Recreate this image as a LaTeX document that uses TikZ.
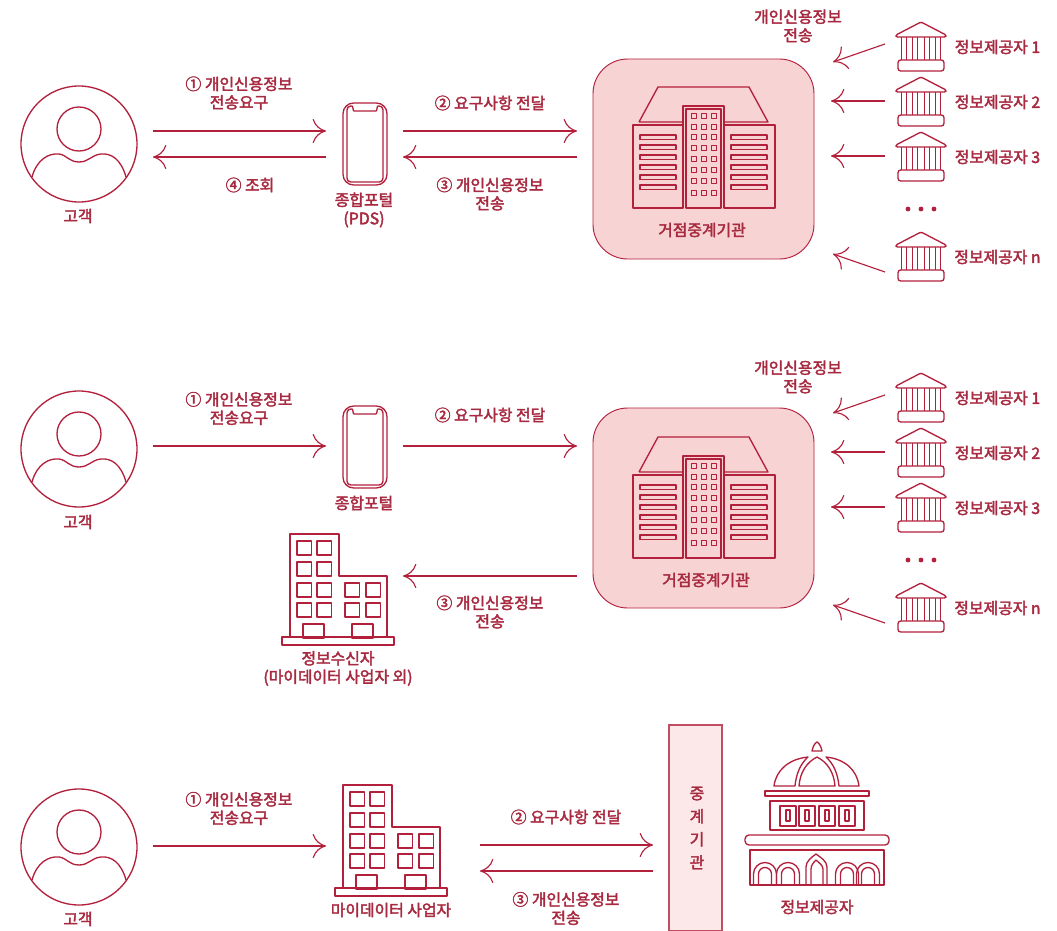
\documentclass[tikz,border=0pt]{standalone}
\usepackage{fontspec}
\setmainfont[FakeBold=2.4]{Noto Sans CJK KR}
\usepackage{tikz}
\usetikzlibrary{arrows.meta,positioning,calc}
\definecolor{linered}{HTML}{B2203C}
\definecolor{textred}{HTML}{A82A40}
\definecolor{hubfill}{HTML}{F8D3D3}
\definecolor{relayfill}{HTML}{FCE8E8}
\tikzset{
  customer/.pic={
    \draw[icon] (0,0) circle (58);
    \draw[icon] (0,-15) circle (22);
    \draw[icon] (-47,33) .. controls (-42,15) and (-30,9) .. (-20,10) .. controls (-12,11) and (-10,18) .. (0,18) .. controls (10,18) and (12,11) .. (22,10) .. controls (32,9) and (42,15) .. (47,33);
  },
  phone/.pic={
    \draw[icon, rounded corners=8] (-22,-41) rectangle (22,41);
    \draw[icon] (-11,-33) .. controls (-12,-33) and (-12,-38) .. (-13,-38) -- (-14,-38) .. controls (-16.5,-38) and (-18,-36.5) .. (-18,-34) -- (-18,34) .. controls (-18,36.5) and (-16.5,38) .. (-14,38) -- (14,38) .. controls (16.5,38) and (18,36.5) .. (18,34) -- (18,-34) .. controls (18,-36.5) and (16.5,-38) .. (14,-38) -- (13,-38) .. controls (12,-38) and (12,-33) .. (11,-33) -- cycle;
  },
  bank/.pic={
    \draw[icon, rounded corners=1] (0,0) -- (25,13) -- (25,15) -- (-25,15) -- (-25,13) -- cycle;
    \foreach \cx in {-17,-6,6,17} {
      \draw[icon] (\cx-2.2,15) -- (\cx-2.2,38) (\cx+2.2,15) -- (\cx+2.2,38);
    }
    \draw[icon, rounded corners=2] (-23,38) rectangle (23,49);
  },
  hub/.pic={
    \draw[icon] (-65,-25) -- (-46,-60) -- (45,-60) -- (64,-25) -- (20,-25) (-21,-25) -- (-65,-25);
    \draw[icon] (-71,-22) rectangle (-21,61);
    \draw[icon] (20,-22) rectangle (71,61);
    \draw[icon] (-21,61) -- (-21,-41) -- (20,-41) -- (20,61);
    \draw[icon] (-18,61) -- (-18,-38) -- (17,-38) -- (17,61) -- cycle;
    \foreach \wy in {-12,-2,8,18,28,38} {
      \draw[icon] (-64,\wy) rectangle (-28,\wy+4.5);
      \draw[icon] (27,\wy) rectangle (63,\wy+4.5);
    }
    \foreach \wy in {-31,-20,-10,1,12,23,34,46}
      \foreach \wx in {-10,0,10} {
        \draw[icon] (\wx-2.7,\wy-2.7) rectangle (\wx+2.7,\wy+2.7);
      }
  },
  office/.pic={
    \draw[icon] (-8,103) -- (-8,111) -- (104,111) -- (104,103) -- (97,103) -- (97,42) -- (49,42) -- (49,0) -- (0,0) -- (0,103) -- cycle;
    \draw[icon] (0,103) -- (97,103);
    \foreach \wx in {7,27} \foreach \wy in {7,28,49,69} {
      \draw[icon] (\wx,\wy) rectangle (\wx+14.5,\wy+14);
    }
    \foreach \wx in {55,76} \foreach \wy in {49,69} {
      \draw[icon] (\wx,\wy) rectangle (\wx+14.5,\wy+14);
    }
    \draw[icon] (13,90) rectangle (34,104);
    \draw[icon] (62,90) rectangle (83,104);
  },
  capitol/.pic={
    \draw[icon] (-5,9) .. controls (-4,4) and (-2,1) .. (0,0) .. controls (2,1) and (4,4) .. (5,9) -- cycle;
    \draw[icon] (-43,44) .. controls (-41,28) and (-28,17) .. (-9,15) .. controls (-17,22) and (-21,33) .. (-22,44) -- cycle;
    \draw[icon] (42,44) .. controls (40,28) and (28,17) .. (9,15) .. controls (17,22) and (21,33) .. (22,44) -- cycle;
    \draw[icon] (-18,44) .. controls (-17,30) and (-10,20) .. (0,15) .. controls (10,20) and (17,30) .. (18,44) -- cycle;
    \draw[icon] (-52,49) rectangle (52,54);
    \draw[icon] (-47,59) rectangle (47,88);
    \foreach \wx/\ix in {-37/-29,-18/-10,2/10,22/30} {
      \draw[icon] (\wx,64) rectangle (\wx+16,84);
      \draw[icon] (\ix-2,68) rectangle (\ix+2,79);
    }
    \draw[icon, rounded corners=3] (-72,93) rectangle (72,103);
    \draw[icon] (-67,143) -- (-67,108) -- (67,108) -- (67,143) -- cycle;
    \foreach \ax in {-52,-29,30,51} {
      \draw[icon] (\ax-11.5,143) -- (\ax-11.5,132) arc (180:360:11.5) -- (\ax+11.5,143);
      \draw[icon] (\ax-6.5,143) -- (\ax-6.5,132) arc (180:360:6.5) -- (\ax+6.5,143);
    }
    \draw[icon] (-11,143) -- (-11,125) .. controls (-11,119) and (-5,115) .. (-1,112) .. controls (3,115) and (10,119) .. (10,125) -- (10,143);
    \draw[icon] (-6,143) -- (-6,127) .. controls (-6,123) and (-3,120) .. (-1,118) .. controls (1,120) and (6,123) .. (6,127) -- (6,143);
  }
}
\begin{document}
\begin{tikzpicture}[
    x=0.75pt, y=-0.75pt,
    icon/.style={draw=linered, line width=1pt, line join=round},
    flow/.style={draw=linered, line width=0.85pt, -{Computer Modern Rightarrow[length=10pt,width=18pt,line width=0.85pt]}},
    label/.style={text=textred, font=\fontsize{11.9}{13.8}\selectfont, align=center, inner sep=0pt},
    hubbox/.style={draw=linered, line width=0.7pt, fill=hubfill, rounded corners=26pt, minimum width=165.75pt, minimum height=150pt}
]
\useasboundingbox (0,0) rectangle (1057,931);

% first row
\pic at (79,144) {customer};
\node[label] (cust1) at (78,216) {고객};
\pic at (365,144) {phone};
\node[label] (portal1) at (364,210) {종합포털\\(PDS)};
\node[hubbox] (hubbox1) at (703.5,159) {};
\pic at (704,147) {hub};
\node[label] (hublabel1) at (702,230) {거점중계기관};
\node[label] (req1) at (239,93) {① 개인신용정보\\전송요구};
\node[label] (view1) at (250,185) {④ 조회};
\node[label] (pass1) at (490,103) {② 요구사항 전달};
\node[label] (send1) at (490,194) {③ 개인신용정보\\전송};
\node[label] (sendtop1) at (798,26) {개인신용정보\\전송};
\coordinate (c1e) at (153,131);
\coordinate (c1w) at (153,157);
\coordinate (p1w) at (326,131);
\coordinate (p1v) at (326,157);
\coordinate (p1e) at (403,131);
\coordinate (p1s) at (403,157);
\coordinate (h1w) at (577,131);
\coordinate (h1s) at (577,157);
\draw[flow] (c1e) -- (p1w);
\draw[flow] (p1v) -- (c1w);
\draw[flow] (p1e) -- (h1w);
\draw[flow] (h1s) -- (p1s);

% providers, first and second row
\foreach \rowdy/\rownum in {0/1,351/2} {
  \foreach \py/\ptxt/\pname in {22/1/a,77/2/b,132/3/c,232/n/d} {
    \pic at (921,\py+\rowdy) {bank};
    \node[label] (prov\rownum\pname) at (997.5,\py+25+\rowdy) {정보제공자 \ptxt};
  }
  \foreach \dx in {908,921,934} {
    \fill[linered] (\dx,209+\rowdy) circle (2.4);
  }
  \coordinate (ga\rownum) at (885,44+\rowdy);
  \coordinate (ha\rownum) at (833,62+\rowdy);
  \coordinate (gb\rownum) at (885,101+\rowdy);
  \coordinate (hb\rownum) at (831,101+\rowdy);
  \coordinate (gc\rownum) at (885,156+\rowdy);
  \coordinate (hc\rownum) at (831,156+\rowdy);
  \coordinate (gd\rownum) at (885,272+\rowdy);
  \coordinate (hd\rownum) at (833,254+\rowdy);
  \draw[flow] (ga\rownum) -- (ha\rownum);
  \draw[flow] (gb\rownum) -- (hb\rownum);
  \draw[flow] (gc\rownum) -- (hc\rownum);
  \draw[flow] (gd\rownum) -- (hd\rownum);
}

% second row
\pic at (79,449) {customer};
\node[label] (cust2) at (78,522) {고객};
\pic at (365,447) {phone};
\node[label] (portal2) at (364,503) {종합포털};
\node[hubbox] (hubbox2) at (703.5,508) {};
\pic at (704,497) {hub};
\node[label] (hublabel2) at (706,580) {거점중계기관};
\pic at (290,534) {office};
\node[label] (recv2) at (338,668.5) {정보수신자\\(마이데이터 사업자 외)};
\node[label] (req2) at (239,408.5) {① 개인신용정보\\전송요구};
\node[label] (pass2) at (490,415) {② 요구사항 전달};
\node[label] (send2) at (490,612) {③ 개인신용정보\\전송};
\node[label] (sendtop2) at (798,377) {개인신용정보\\전송};
\coordinate (c2e) at (153,446);
\coordinate (p2w) at (326,446);
\coordinate (p2e) at (403,446);
\coordinate (h2w) at (577,446);
\coordinate (h2s) at (577,576);
\coordinate (r2e) at (403,576);
\draw[flow] (c2e) -- (p2w);
\draw[flow] (p2e) -- (h2w);
\draw[flow] (h2s) -- (r2e);

% third row
\pic at (79,847) {customer};
\node[label] (cust3) at (78,919) {고객};
\pic at (343,785) {office};
\node[label] (mydata3) at (391,910) {마이데이터 사업자};
\node[draw=linered!80, line width=0.8pt, fill=relayfill, minimum width=39.75pt, minimum height=154.5pt] (relay3) at (695.5,828) {};
\node[label] (relaytxt3) at (697,828) {중\\[3.5pt]계\\[3.5pt]기\\[3.5pt]관};
\pic at (817,742) {capitol};
\node[label] (prov3) at (817,907) {정보제공자};
\node[label] (req3) at (239,808.5) {① 개인신용정보\\전송요구};
\node[label] (pass3) at (566,817) {② 요구사항 전달};
\node[label] (send3) at (566,908.5) {③ 개인신용정보\\전송};
\coordinate (c3e) at (153,846);
\coordinate (m3w) at (326,846);
\coordinate (m3e) at (480,845);
\coordinate (m3s) at (480,871);
\coordinate (r3w) at (653,845);
\coordinate (r3s) at (653,871);
\draw[flow] (c3e) -- (m3w);
\draw[flow] (m3e) -- (r3w);
\draw[flow] (r3s) -- (m3s);
\end{tikzpicture}
\end{document}
